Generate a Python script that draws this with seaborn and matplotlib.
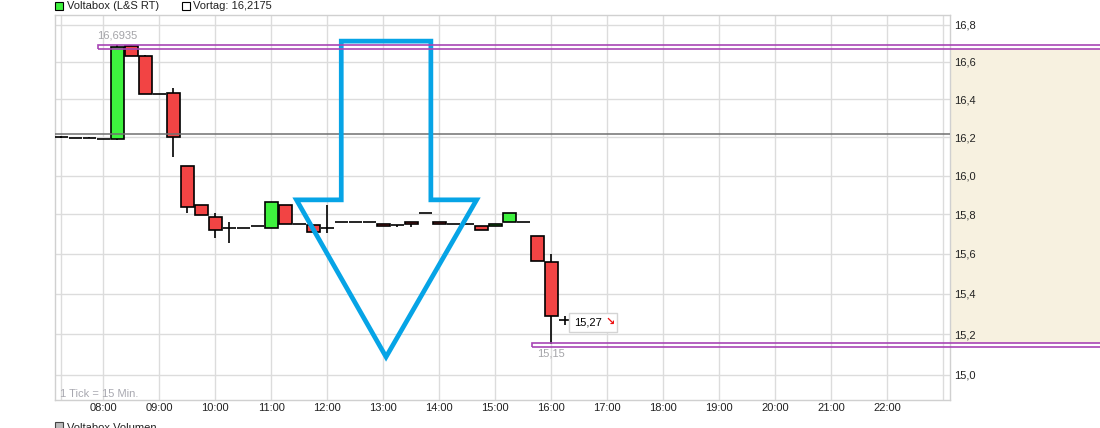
import numpy as np
import matplotlib
matplotlib.use("Agg")
import matplotlib.pyplot as plt
import seaborn as sns
from matplotlib.patches import Rectangle, Polygon
from matplotlib.transforms import IdentityTransform
from matplotlib.ticker import FixedLocator, FixedFormatter, NullLocator

sns.set_theme(style="white")
plt.rcParams['font.family'] = ['Liberation Sans', 'DejaVu Sans']

# 15-Minuten-Kerzen
times = ["07:15", "07:30", "07:45", "08:00", "08:15", "08:30", "08:45", "09:00",
         "09:15", "09:30", "09:45", "10:00", "10:15", "10:30", "10:45", "11:00",
         "11:15", "11:30", "11:45", "12:00", "12:15", "12:30", "12:45", "13:00",
         "13:15", "13:30", "13:45", "14:00", "14:15", "14:30", "14:45", "15:00",
         "15:15", "15:30", "15:45", "16:00", "16:15"]
opens = [16.200, 16.197, 16.197, 16.192, 16.190, 16.686, 16.631, 16.431,
         16.433, 16.049, 15.848, 15.786, 15.730, 15.730, 15.740, 15.730,
         15.848, 15.750, 15.748, 15.730, 15.761, 15.761, 15.761, 15.750,
         15.746, 15.761, 15.807, 15.761, 15.750, 15.750, 15.740, 15.740,
         15.761, 15.761, 15.691, 15.559, 15.270]
highs = [16.205, 16.197, 16.201, 16.192, 16.6935, 16.6935, 16.638, 16.431,
         16.459, 16.049, 15.848, 15.809, 15.762, 15.730, 15.740, 15.866,
         15.848, 15.750, 15.748, 15.848, 15.761, 15.761, 15.761, 15.750,
         15.746, 15.761, 15.807, 15.761, 15.750, 15.750, 15.740, 15.752,
         15.807, 15.761, 15.691, 15.600, 15.289]
lows = [16.196, 16.197, 16.194, 16.192, 16.185, 16.631, 16.429, 16.431,
        16.099, 15.807, 15.796, 15.679, 15.657, 15.730, 15.740, 15.730,
        15.750, 15.750, 15.711, 15.708, 15.761, 15.761, 15.761, 15.740,
        15.736, 15.736, 15.807, 15.750, 15.750, 15.750, 15.720, 15.740,
        15.761, 15.761, 15.566, 15.150, 15.245]
closes = [16.200, 16.197, 16.197, 16.192, 16.679, 16.631, 16.429, 16.431,
          16.200, 15.838, 15.796, 15.720, 15.730, 15.730, 15.740, 15.866,
          15.750, 15.750, 15.711, 15.730, 15.761, 15.761, 15.761, 15.740,
          15.746, 15.750, 15.807, 15.750, 15.750, 15.750, 15.720, 15.752,
          15.807, 15.761, 15.566, 15.288, 15.270]

vortag = 16.2175
day_high = 16.6935
day_low = 15.15
last_price = 15.27
high_time = "08:15"
low_time = "16:00"

y_ticks = [15.0, 15.2, 15.4, 15.6, 15.8, 16.0, 16.2, 16.4, 16.6, 16.8]
x_hours = ["08:00", "09:00", "10:00", "11:00", "12:00", "13:00", "14:00", "15:00",
           "16:00", "17:00", "18:00", "19:00", "20:00", "21:00", "22:00"]

# blauer Pfeil (Zeit, Kurs)
arrow_t = ["12:15", "13:51", "13:51", "14:40", "13:03", "11:27", "12:15"]
arrow_p = [16.712, 16.712, 15.875, 15.875, 15.088, 15.875, 15.875]

GREEN = "#3ef23e"
RED = "#f24444"
GRID = "#dcdcdc"
PURPLE = "#a845b5"
BEIGE = "#f7f1e0"


def mins(t):
    h, m = t.split(":")
    return int(h) * 60 + int(m)


tm = np.array([mins(t) for t in times])
W, H = 1100, 428
fig = plt.figure(figsize=(W / 100, H / 100), dpi=100)
ax = fig.add_axes([55 / W, 1 - 400 / H, 895 / W, 385 / H])

ax.set_yscale("log")
ax.set_xlim(428.3, 1387.2)
ax.set_ylim(14.879, 16.854)

# Gitter
for v in y_ticks:
    ax.axhline(v, color=GRID, lw=1, zorder=0)
for m in [mins("07:15")] + [mins(t) for t in x_hours] + [mins("23:00")]:
    ax.axvline(m, color=GRID, lw=1, zorder=0)

# Kerzen
o = np.array(opens); c = np.array(closes)
ax.vlines(tm, lows, highs, color="black", lw=1.2, zorder=2)
cols = [GREEN if cc > oo else RED for oo, cc in zip(o, c)]
ax.bar(tm, np.abs(c - o), bottom=np.minimum(o, c), width=13.8, color=cols,
       edgecolor="black", linewidth=1.2, zorder=3)

# Vortag
ax.axhline(vortag, color="#707070", lw=1.1, zorder=4)

# Pfeil
pts = list(zip([mins(t) for t in arrow_t], arrow_p))
ax.add_patch(Polygon(pts, closed=True, fill=False, ec="#06a4e6", lw=3.4,
                     joinstyle="miter", zorder=6))

# Achsen
ax.xaxis.set_major_locator(FixedLocator([mins(t) for t in x_hours]))
ax.xaxis.set_major_formatter(FixedFormatter(x_hours))
ax.yaxis.set_major_locator(FixedLocator(y_ticks))
ax.yaxis.set_major_formatter(FixedFormatter([f"{v:.1f}".replace(".", ",") for v in y_ticks]))
ax.yaxis.set_minor_locator(NullLocator())
ax.yaxis.tick_right()
ax.tick_params(axis="x", length=0, pad=2, labelsize=8, labelcolor="#222222")
ax.tick_params(axis="y", length=0, pad=3, labelsize=8, labelcolor="#222222")
for s in ax.spines.values():
    s.set_color("#d0d0d0")
    s.set_linewidth(1)


def px(t, v):
    return ax.transData.transform((t, v))


# Hoch/Tief Markierungen + beiger Bereich
hx, hy = px(mins(high_time) - 21, day_high)
lx, ly = px(mins(low_time) - 21, day_low)
rx = ax.transAxes.transform((1, 0))[0]
fig.add_artist(Rectangle((rx, ly + 1), W - rx, (hy - 4.5) - (ly + 1), transform=IdentityTransform(),
                         fc=BEIGE, ec="none", zorder=-1))
fig.add_artist(Rectangle((hx, hy - 4.5), W + 5 - hx, 4.5, transform=IdentityTransform(),
                         fill=False, ec=PURPLE, lw=1.2, zorder=3))
fig.add_artist(Rectangle((lx, ly - 3), W + 5 - lx, 4, transform=IdentityTransform(),
                         fill=False, ec=PURPLE, lw=1.2, zorder=3))

ax.annotate(f"{day_high:.4f}".replace(".", ","), xy=(mins(high_time), day_high),
            xytext=(0, 6.3), textcoords="offset points", ha="center", va="center",
            fontsize=8, color="#a4a4a8", annotation_clip=False)
ax.annotate(f"{day_low:.2f}".replace(".", ","), xy=(mins(low_time), day_low),
            xytext=(0, -7), textcoords="offset points", ha="center", va="center",
            fontsize=8, color="#a4a4a8", annotation_clip=False)

# letzter Kurs mit Kasten
px_last, py_last = px(tm[-1], last_price)
fig.add_artist(Rectangle((px_last + 4, py_last - 12), 48, 18.5, transform=IdentityTransform(),
                         fc="white", ec="#d4d4d4", lw=1, zorder=4))
fig.text((px_last + 9) / W, (py_last - 2.5) / H, f"{last_price:.2f}".replace(".", ","),
         fontsize=8, color="black", va="center", ha="left", zorder=5)
fig.text((px_last + 40) / W, (py_last - 2.5) / H, "\u2198", fontsize=8, color="#ee1111",
         fontweight="bold", va="center", ha="left", zorder=5)

# Legende oben
fig.add_artist(Rectangle((55 / W, 1 - 9.5 / H), 7.5 / W, 7.5 / H, transform=fig.transFigure,
                         fc=GREEN, ec="black", lw=0.8))
fig.text(67 / W, 1 - 6 / H, "Voltabox (L&S RT)", fontsize=8, va="center", color="#222222")
fig.add_artist(Rectangle((182 / W, 1 - 9.5 / H), 7.5 / W, 7.5 / H, transform=fig.transFigure,
                         fc="white", ec="black", lw=0.8))
fig.text(193 / W, 1 - 6 / H, f"Vortag: {vortag:.4f}".replace(".", ","), fontsize=8,
         va="center", color="#222222")

fig.text(60 / W, 1 - 394 / H, "1 Tick = 15 Min.", fontsize=8, va="center", color="#a8a8b0")

# Volumen-Legende (abgeschnitten)
fig.add_artist(Rectangle((55 / W, 1 - 428.5 / H), 7.5 / W, 7 / H, transform=fig.transFigure,
                         fc="#bbbbbb", ec="#444444", lw=0.8))
fig.text(67 / W, 1 - 428 / H, "Voltabox Volumen", fontsize=8, va="center", color="#222222")

fig.savefig("out.png", dpi=100)
